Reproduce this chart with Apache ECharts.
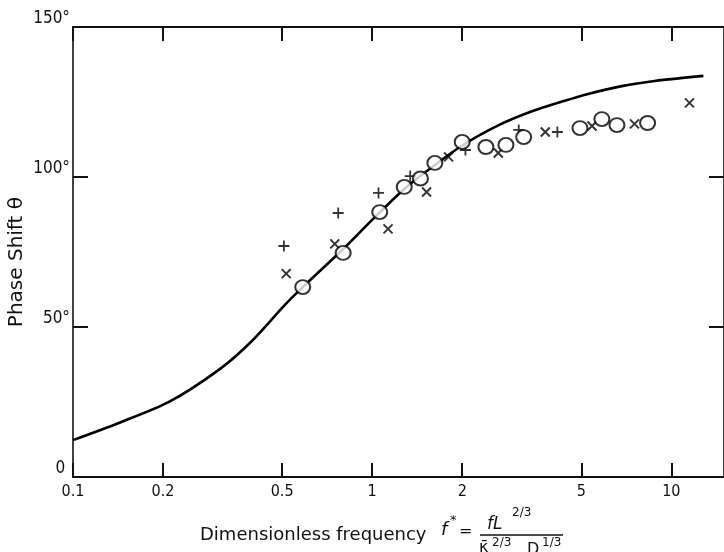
<!DOCTYPE html>
<html>
<head>
<meta charset="utf-8">
<script src="https://cdn.jsdelivr.net/npm/echarts@6/dist/echarts.min.js"></script>
<style>
html,body{margin:0;padding:0;background:#fff;}
#chart{width:724px;height:552px;}
</style>
</head>
<body>
<div id="chart"></div>
<script>
// Theory curve (dimensionless frequency f*, phase shift in degrees)
const curveF     = [0.1, 0.143, 0.21, 0.307, 0.394, 0.51, 0.586, 0.8, 1.0, 1.28, 1.5, 2.0, 2.65, 3.44, 4.43, 5.27, 6.83, 8.8, 12.8];
const curveTheta = [12.3, 18.1, 25.1, 35.7, 45.1, 57.3, 63.3, 76, 85.7, 96, 101.5, 110.5, 117.3, 122, 125.5, 127.7, 130.3, 132, 133.7];

// Measured points: circles
const circleF     = [0.586, 0.80, 1.06, 1.28, 1.45, 1.62, 2.0, 2.40, 2.80, 3.21, 4.95, 5.86, 6.58, 8.33];
const circleTheta = [63.3, 74.7, 88.3, 96.7, 99.5, 104.7, 111.7, 110, 110.7, 113.3, 116.3, 119.3, 117.3, 118];

// Measured points: plus
const plusF     = [0.507, 0.77, 1.05, 1.34, 2.05, 3.09, 4.16];
const plusTheta = [77, 88, 94.7, 100.3, 109, 115.7, 115];

// Measured points: cross
const crossF     = [0.516, 0.75, 1.13, 1.52, 1.80, 2.64, 3.79, 5.43, 7.53, 11.5];
const crossTheta = [67.8, 77.7, 82.7, 95, 106.7, 108, 115, 117, 117.7, 124.7];

// Axis ticks
const xTicks = [0.1, 0.2, 0.5, 1, 2, 5, 10];
const yTicks = [0, 50, 100, 150];

const zip = (a, b) => a.map((v, i) => [v, b[i]]);
const FONT = '"DejaVu Sans Condensed", "DejaVu Sans", sans-serif';
const TFONT = '"DejaVu Sans", sans-serif';

const chart = echarts.init(document.getElementById('chart'), null, {renderer: 'canvas'});

const xBase = {
  type: 'log', logBase: 10, min: 0.1, max: 15,
  axisLine: {show: true, onZero: false, lineStyle: {color: '#111', width: 2}},
  axisTick: {show: true, inside: true, length: 14, customValues: xTicks, lineStyle: {color: '#111', width: 2}},
  splitLine: {show: false}, minorTick: {show: false}, minorSplitLine: {show: false}
};
const yBase = {
  type: 'value', min: 0, max: 150, interval: 50,
  axisLine: {show: true, onZero: false, lineStyle: {color: '#111', width: 1.6}},
  axisTick: {show: true, inside: true, length: 15, lineStyle: {color: '#111', width: 2}},
  splitLine: {show: false}
};

chart.setOption({
  animation: false,
  backgroundColor: '#fff',
  grid: {left: 73, top: 27, width: 657, height: 450, containLabel: false},
  xAxis: [
    Object.assign({}, xBase, {
      position: 'bottom',
      axisLabel: {show: true, customValues: xTicks, margin: 7, color: '#111', fontSize: 16, fontFamily: FONT,
        formatter: v => String(v)}
    }),
    Object.assign({}, xBase, {position: 'top', axisLabel: {show: false}})
  ],
  yAxis: [
    Object.assign({}, yBase, {
      position: 'left',
      axisLabel: {show: true, margin: 3, color: '#111', fontSize: 17, fontFamily: FONT, verticalAlign: 'bottom',
        formatter: v => v === 0 ? '0 ' : v + '°'}
    }),
    Object.assign({}, yBase, {position: 'right', axisLabel: {show: false}})
  ],
  series: [
    {
      type: 'line', name: 'theory', data: zip(curveF, curveTheta), smooth: 0.3,
      showSymbol: false, symbol: 'none', z: 2,
      lineStyle: {color: '#000', width: 2.6}
    },
    {
      type: 'scatter', name: 'plus', data: zip(plusF, plusTheta), z: 3,
      symbol: 'path://M5,0L5,10M0,5L10,5', symbolSize: 11,
      itemStyle: {color: 'rgba(0,0,0,0)', borderColor: '#000', borderWidth: 1.8}
    },
    {
      type: 'scatter', name: 'cross', data: zip(crossF, crossTheta), z: 3,
      symbol: 'path://M0,0L10,10M10,0L0,10', symbolSize: 9,
      itemStyle: {color: 'rgba(0,0,0,0)', borderColor: '#000', borderWidth: 2}
    },
    {
      type: 'scatter', name: 'circle', data: zip(circleF, circleTheta), z: 4,
      symbol: 'circle', symbolSize: [15, 14],
      itemStyle: {color: '#fff', borderColor: '#000', borderWidth: 2}
    }
  ],
  graphic: [
    {type: 'text', left: 7, top: 197, rotation: Math.PI / 2, originX: 0, originY: 0,
      style: {text: 'Phase Shift θ', fontSize: 20, fontFamily: TFONT, fill: '#111'}, z: 10},
    {type: 'text', x: 200, y: 535,
      style: {text: 'Dimensionless frequency', fontSize: 18, fontFamily: TFONT, fill: '#111', verticalAlign: 'middle'}},
    {type: 'text', x: 441, y: 530,
      style: {text: 'f', fontSize: 18, fontStyle: 'italic', fontFamily: TFONT, fill: '#111', verticalAlign: 'middle'}},
    {type: 'text', x: 450, y: 521,
      style: {text: '*', fontSize: 13, fontFamily: TFONT, fill: '#111', verticalAlign: 'middle'}},
    {type: 'text', x: 459, y: 532,
      style: {text: '=', fontSize: 16, fontFamily: TFONT, fill: '#111', verticalAlign: 'middle'}},
    {type: 'text', x: 487, y: 525,
      style: {text: 'fL', fontSize: 17, fontStyle: 'italic', fontFamily: TFONT, fill: '#111', verticalAlign: 'middle'}},
    {type: 'text', x: 512, y: 513,
      style: {text: '2/3', fontSize: 12, fontFamily: TFONT, fill: '#111', verticalAlign: 'middle'}},
    {type: 'line', shape: {x1: 480, y1: 535, x2: 563, y2: 535}, style: {stroke: '#111', lineWidth: 1.5}},
    {type: 'text', x: 479, y: 548,
      style: {text: 'κ̄', fontSize: 16, fontFamily: TFONT, fill: '#111', verticalAlign: 'middle'}},
    {type: 'text', x: 492, y: 543,
      style: {text: '2/3', fontSize: 12, fontFamily: TFONT, fill: '#111', verticalAlign: 'middle'}},
    {type: 'text', x: 527, y: 550,
      style: {text: 'D', fontSize: 16, fontFamily: TFONT, fill: '#111', verticalAlign: 'middle'}},
    {type: 'text', x: 542, y: 543,
      style: {text: '1/3', fontSize: 12, fontFamily: TFONT, fill: '#111', verticalAlign: 'middle'}}
  ]
});
</script>
</body>
</html>
